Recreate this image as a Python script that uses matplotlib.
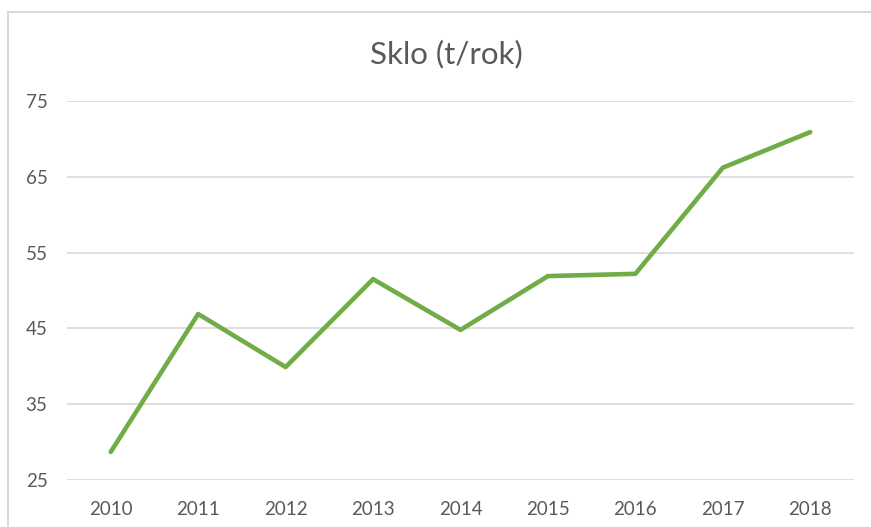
import matplotlib
matplotlib.use("Agg")
import matplotlib.pyplot as plt
from matplotlib.lines import Line2D

years = ["2010", "2011", "2012", "2013", "2014", "2015", "2016", "2017", "2018"]
sklo = [28.7, 46.9, 39.9, 51.5, 44.8, 51.9, 52.2, 66.2, 70.9]
yticks = [25, 35, 45, 55, 65, 75]
title = "Sklo (t/rok)"

plt.rcParams['font.family'] = ['Lato', 'DejaVu Sans']
W, H = 871, 527
fig = plt.figure(figsize=(W / 100, H / 100), dpi=100)
ax = fig.add_axes([67 / W, 1 - 480 / H, 787 / W, (480 - 101) / H])

x = list(range(len(years)))
ax.plot(x, sklo, color="#70AD47", lw=3.3, solid_capstyle="round", solid_joinstyle="round", zorder=3)

ax.set_xlim(-0.5, len(years) - 0.5)
ax.set_ylim(25, 75)
ax.set_yticks(yticks)
ax.set_xticks(x)
ax.set_xticklabels(years)
ax.grid(axis="y", color="#D9D9D9", lw=1.2)
ax.set_axisbelow(True)
for s in ax.spines.values():
    s.set_visible(False)
ax.tick_params(axis="both", length=0, colors="#595959", labelsize=13.5)
ax.tick_params(axis="y", pad=14)
ax.tick_params(axis="x", pad=15)

fig.text(446 / W, 1 - 54 / H, title, ha="center", va="center", fontsize=22.5, color="#595959")

# chart area border (partially visible)
fig.add_artist(Line2D([8 / W, 1.0], [1 - 12 / H, 1 - 12 / H], color="#D9D9D9", lw=1.5, transform=fig.transFigure))
fig.add_artist(Line2D([8 / W, 8 / W], [1 - 12 / H, 0.0], color="#D9D9D9", lw=1.5, transform=fig.transFigure))

fig.savefig("out.png", dpi=100)
